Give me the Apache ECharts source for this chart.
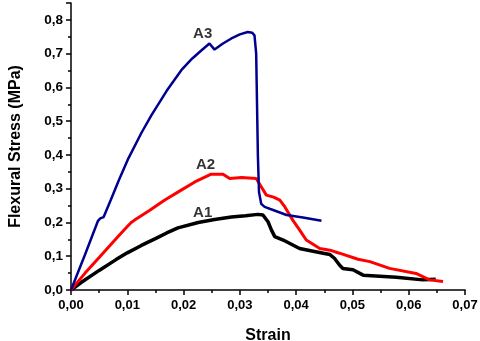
<!DOCTYPE html>
<html>
<head>
<meta charset="utf-8">
<script src="https://cdn.jsdelivr.net/npm/echarts@6/dist/echarts.min.js"></script>
<style>
  html, body { margin: 0; padding: 0; background: #fff; }
  #chart { width: 480px; height: 341px; }
</style>
</head>
<body>
<div id="chart"></div>
<script>
// strain / flexural stress (MPa)
var a1Strain = [0, 0.0018, 0.005, 0.0080, 0.0100, 0.0125, 0.0150, 0.0170, 0.0190, 0.0226, 0.0255, 0.0285, 0.0310, 0.0332, 0.0341, 0.0350, 0.0356, 0.0362, 0.0377, 0.0406, 0.0448, 0.0460, 0.0468, 0.0477, 0.0483, 0.0501, 0.0519, 0.0578, 0.0625, 0.0648];
var a1Stress = [0, 0.022, 0.058, 0.090, 0.110, 0.132, 0.152, 0.169, 0.184, 0.200, 0.209, 0.216, 0.220, 0.224, 0.222, 0.202, 0.178, 0.158, 0.148, 0.123, 0.109, 0.105, 0.094, 0.074, 0.064, 0.060, 0.044, 0.038, 0.030, 0.032];

var a2Strain = [0, 0.0025, 0.0050, 0.0080, 0.0100, 0.0107, 0.0113, 0.0140, 0.0166, 0.0195, 0.0220, 0.0249, 0.0270, 0.0282, 0.0303, 0.0329, 0.0338, 0.0347, 0.0360, 0.0371, 0.0380, 0.0394, 0.0406, 0.0418, 0.0442, 0.0460, 0.0477, 0.0510, 0.0531, 0.0566, 0.0613, 0.0637, 0.0661];
var a2Stress = [0, 0.050, 0.096, 0.152, 0.188, 0.200, 0.207, 0.236, 0.266, 0.295, 0.320, 0.343, 0.343, 0.330, 0.333, 0.330, 0.306, 0.281, 0.275, 0.266, 0.246, 0.207, 0.178, 0.148, 0.123, 0.118, 0.109, 0.091, 0.084, 0.064, 0.049, 0.030, 0.025];

var a3Strain = [0, 0.0025, 0.0048, 0.0052, 0.0058, 0.0071, 0.0085, 0.0102, 0.0125, 0.0143, 0.0170, 0.0196, 0.0215, 0.0232, 0.0246, 0.0255, 0.0270, 0.0285, 0.0300, 0.0314, 0.0322, 0.0326, 0.0329, 0.0330, 0.0332, 0.0334, 0.0338, 0.0344, 0.0359, 0.0383, 0.0412, 0.0445];
var a3Stress = [0, 0.105, 0.205, 0.212, 0.216, 0.268, 0.325, 0.390, 0.465, 0.518, 0.590, 0.651, 0.685, 0.710, 0.730, 0.712, 0.730, 0.745, 0.757, 0.764, 0.762, 0.754, 0.700, 0.600, 0.400, 0.290, 0.255, 0.246, 0.237, 0.222, 0.215, 0.205];

var curveNames = ["A1", "A2", "A3"];
var labelPos = [[0.0234, 0.228], [0.0239, 0.370], [0.0234, 0.758]];

function pairs(xs, ys) {
  return xs.map(function (x, i) { return [x, ys[i]]; });
}

var fontFamily = "'Liberation Sans', Arial, sans-serif";
var chart = echarts.init(document.getElementById("chart"));

var option = {
  animation: false,
  backgroundColor: "#fff",
  grid: {
    left: 71,
    right: 15,
    top: 3,
    bottom: 51,
    containLabel: false,
    outerBoundsMode: "none"
  },
  xAxis: {
    type: "value",
    min: 0,
    max: 0.07,
    interval: 0.01,
    name: "Strain",
    nameLocation: "middle",
    nameGap: 38,
    nameTextStyle: { fontFamily: fontFamily, fontWeight: "bold", fontSize: 16, color: "#000" },
    axisLine: { show: true, lineStyle: { color: "#000", width: 1.5 } },
    axisTick: { show: true, inside: false, length: 5, lineStyle: { color: "#000", width: 1.5 } },
    minorTick: { show: true, splitNumber: 2, length: 3, lineStyle: { color: "#000", width: 1.5 } },
    splitLine: { show: false },
    axisLabel: {
      margin: 9,
      fontFamily: fontFamily,
      fontWeight: "bold",
      fontSize: 13,
      color: "#000",
      formatter: function (v) { return v.toFixed(2).replace(".", ","); }
    }
  },
  yAxis: {
    type: "value",
    min: 0,
    max: 0.85,
    interval: 0.1,
    name: "Flexural Stress (MPa)",
    nameLocation: "middle",
    nameGap: 47,
    nameTextStyle: { fontFamily: fontFamily, fontWeight: "bold", fontSize: 16, color: "#000" },
    axisLine: { show: true, lineStyle: { color: "#000", width: 1.5 } },
    axisTick: { show: true, inside: false, length: 5, lineStyle: { color: "#000", width: 1.5 } },
    minorTick: { show: true, splitNumber: 2, length: 3, lineStyle: { color: "#000", width: 1.5 } },
    splitLine: { show: false },
    axisLabel: {
      margin: 8,
      showMaxLabel: false,
      fontFamily: fontFamily,
      fontWeight: "bold",
      fontSize: 13.5,
      color: "#000",
      formatter: function (v) { return v.toFixed(1).replace(".", ","); }
    }
  },
  series: [
    {
      name: "A1",
      type: "line",
      data: pairs(a1Strain, a1Stress),
      showSymbol: false,
      lineStyle: { color: "#000", width: 3.5 },
      z: 2
    },
    {
      name: "A2",
      type: "line",
      data: pairs(a2Strain, a2Stress),
      showSymbol: false,
      lineStyle: { color: "#ff0000", width: 3 },
      z: 3
    },
    {
      name: "A3",
      type: "line",
      data: pairs(a3Strain, a3Stress),
      showSymbol: false,
      lineStyle: { color: "#000090", width: 2.5 },
      z: 4
    },
    {
      type: "scatter",
      symbolSize: 0,
      data: labelPos.map(function (p, i) { return { value: p, name: curveNames[i] }; }),
      label: {
        show: true,
        position: "inside",
        formatter: function (p) { return p.name; },
        fontFamily: fontFamily,
        fontWeight: "bold",
        fontSize: 15,
        color: "#000"
      },
      silent: true,
      z: 5
    }
  ]
};

chart.setOption(option);
</script>
</body>
</html>
